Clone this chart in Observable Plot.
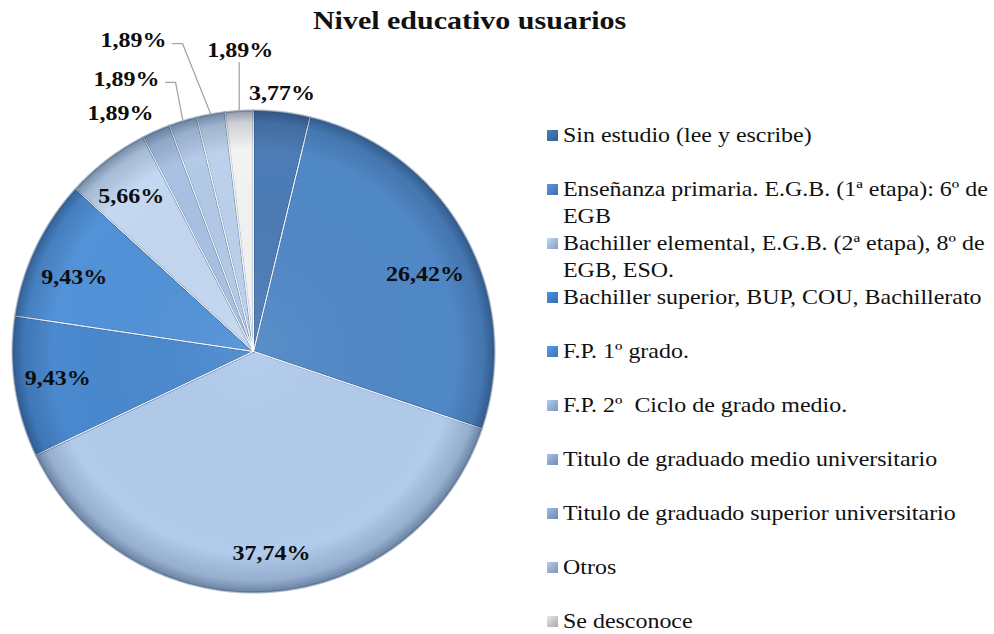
<!DOCTYPE html>
<html>
<head>
<meta charset="utf-8">
<script src="https://cdn.jsdelivr.net/npm/d3@7"></script>
<script src="https://cdn.jsdelivr.net/npm/@observablehq/plot@0.6"></script>
<style>
  body { margin: 0; background: #fff; font-family: "Liberation Serif", "Times New Roman", serif; color: #111; }
  #wrap { position: relative; width: 994px; height: 634px; overflow: hidden; }
  #chart { position: absolute; left: 0; top: 0; }
  #title { position: absolute; left: 0; top: 6px; width: 940px; text-align: center; font-weight: bold; font-size: 25px; line-height: 30px; }
  #title span { display: inline-block; transform: scaleX(1.2); transform-origin: center; }
  #legend { position: absolute; left: 547px; top: 122px; width: 440px; font-size: 21px; }
  .item { display: flex; align-items: flex-start; height: 54px; line-height: 27px; }
  .sw { width: 11px; height: 11px; margin-top: 8px; margin-right: 5px; flex: none; }
  .txt { display: inline-block; width: 373px; white-space: pre-wrap; transform: scaleX(1.14); transform-origin: left top; }
</style>
</head>
<body>
<div id="wrap">
  <div id="chart"></div>
  <div id="title"><span>Nivel educativo usuarios</span></div>
  <div id="legend"></div>
</div>
<script>
// ---- Data ----
const categorias = [
  "Sin estudio (lee y escribe)",
  "Enseñanza primaria. E.G.B. (1ª etapa): 6º de EGB",
  "Bachiller elemental, E.G.B. (2ª etapa), 8º de EGB, ESO.",
  "Bachiller superior, BUP, COU, Bachillerato",
  "F.P. 1º grado.",
  "F.P. 2º  Ciclo de grado medio.",
  "Titulo de graduado medio universitario",
  "Titulo de graduado superior universitario",
  "Otros",
  "Se desconoce"
];
const porcentajes = [3.77, 26.42, 37.74, 9.43, 9.43, 5.66, 1.89, 1.89, 1.89, 1.89];

// ---- Styles ----
const coloresSector = ["#4c7cb6", "#5088c7", "#b1cbec", "#4a89cf", "#5292d8", "#c3d8f1", "#a9c2e3", "#b3cae8", "#bcd1ec", "#f3f3f3"];
const coloresLeyenda = ["#3e6da3", "#4a80c0", "#a2b6d6", "#3f7cc2", "#4785cb", "#95acd3", "#8aa3c9", "#839fc9", "#97abcd", "#c4c4c4"];

// ---- Layout ----
const R = 241, CX = 253, CY = 351;
const radioEtiqueta = [1.077, 0.78, 0.84, 0.82, 0.805, 0.82, 1.131, 1.246, 1.383, 1.25];
const giroEtiqueta = [-0.5, 4.7, -1.7, 0.6, -3, -0.8, -5.4, -8.0, -10.9, 0.9];
const conector = [null, null, null, null, null, null, null, "lado", "lado", "arriba"];

const fmt = d3.format(".2f");
const pie = d3.pie().sort(null).value(d => d)(porcentajes);
const rad = Math.PI / 180;
const px = 1 / R;

// slice polygons
const puntos = [];
pie.forEach((p, i) => {
  const n = Math.max(4, Math.ceil((p.endAngle - p.startAngle) / (rad / 2)));
  puntos.push({cat: categorias[i], x: 0, y: 0});
  for (let k = 0; k <= n; k++) {
    const a = p.startAngle + (p.endAngle - p.startAngle) * k / n;
    puntos.push({cat: categorias[i], x: Math.sin(a), y: Math.cos(a)});
  }
  puntos.push({cat: categorias[i], x: 0, y: 0});
});

// outline circle for rim shading
const circulo = d3.range(0, 361).map(d => ({x: Math.sin(d * rad), y: Math.cos(d * rad)}));

// labels
const etiquetas = pie.map((p, i) => {
  const m = (p.startAngle + p.endAngle) / 2 + giroEtiqueta[i] * rad;
  return {x: Math.sin(m) * radioEtiqueta[i], y: Math.cos(m) * radioEtiqueta[i],
          text: fmt(porcentajes[i]).replace(".", ",") + "%"};
});

// leader lines
const conectores = [];
pie.forEach((p, i) => {
  if (!conector[i]) return;
  const m = (p.startAngle + p.endAngle) / 2;
  const rim = {x: Math.sin(m), y: Math.cos(m)};
  const e = etiquetas[i];
  let pts;
  if (conector[i] === "arriba") pts = [rim, {x: rim.x, y: e.y - 12 * px}];
  else {
    const fin = {x: e.x + 39 * px, y: e.y - 3 * px};
    pts = [rim, {x: fin.x + 10 * px, y: fin.y}, fin];
  }
  pts.forEach(q => conectores.push({id: i, x: q.x, y: q.y}));
});

const plot = Plot.plot({
  width: 994,
  height: 634,
  x: {domain: [-1, 1], range: [CX - R, CX + R], axis: null},
  y: {domain: [-1, 1], range: [CY + R, CY - R], axis: null},
  color: {domain: categorias, range: coloresSector},
  style: {fontFamily: "'Liberation Serif', 'Times New Roman', serif", background: "transparent"},
  marks: [
    Plot.line(puntos, {x: "x", y: "y", z: "cat", fill: "cat", stroke: "#2e4f7a", strokeWidth: 2.2, strokeOpacity: 0.35}),
    Plot.line(puntos, {x: "x", y: "y", z: "cat", stroke: "#ffffff", strokeWidth: 1, strokeOpacity: 0.8}),
    Plot.line(circulo, {x: "x", y: "y", fill: "url(#borde)", stroke: "#3f5f88", strokeWidth: 0.8, strokeOpacity: 0.5}),
    Plot.line(conectores, {x: "x", y: "y", z: "id", stroke: "#a6a6a6", strokeWidth: 1.3}),
    Plot.text(etiquetas, {x: "x", y: "y", text: "text", fontSize: 20, fontWeight: "bold", fill: "#0d0d0d"})
  ]
});

d3.select(plot).insert("defs", ":first-child").html(
  `<radialGradient id="borde" cx="0.5" cy="0.5" r="0.5">
     <stop offset="0" stop-color="#ffffff" stop-opacity="0.06"/>
     <stop offset="0.84" stop-color="#000000" stop-opacity="0"/>
     <stop offset="0.95" stop-color="#0a1f3d" stop-opacity="0.16"/>
     <stop offset="1" stop-color="#0a1f3d" stop-opacity="0.42"/>
   </radialGradient>`);

document.getElementById("chart").appendChild(plot);

// horizontally stretch label glyphs like the reference
d3.select(plot).selectAll('g[aria-label="text"] text').each(function() {
  const w = this.getComputedTextLength();
  if (w > 0) {
    this.setAttribute("textLength", (w * 1.2).toFixed(1));
    this.setAttribute("lengthAdjust", "spacingAndGlyphs");
  }
});

// legend
const leg = d3.select("#legend");
categorias.forEach((c, i) => {
  const it = leg.append("div").attr("class", "item");
  it.append("div").attr("class", "sw")
    .style("background", `linear-gradient(135deg, ${d3.color(coloresLeyenda[i]).brighter(0.5)}, ${coloresLeyenda[i]} 55%, ${d3.color(coloresLeyenda[i]).darker(0.4)})`);
  it.append("span").attr("class", "txt").text(c);
});
</script>
</body>
</html>
